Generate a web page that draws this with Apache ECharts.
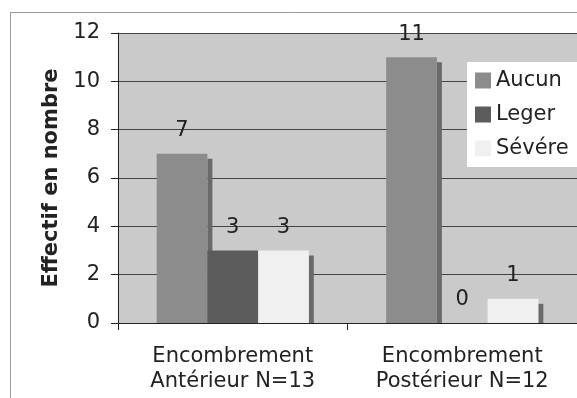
<!DOCTYPE html>
<html><head><meta charset="utf-8">
<script src="https://cdn.jsdelivr.net/npm/echarts@6/dist/echarts.min.js"></script>
<style>html,body{margin:0;padding:0;background:#fff}#c{width:577px;height:398px}</style>
</head><body><div id="c"></div>
<script>
var categories = ['Encombrement\nAntérieur N=13', 'Encombrement\nPostérieur N=12'];
var seriesNames = ['Aucun', 'Leger', 'Sévére'];
var aucun = [7, 11];
var leger = [3, 0];
var severe = [3, 1];
var yTicks = {min: 0, max: 12, interval: 2};

var colors = ['#8c8c8c', '#5c5c5c', '#f0f0f0'];
var shadowColor = '#6a6a6a';
var FONT = 'DejaVu Sans';
var FS = 21;

function makeRender(idx, color) {
  return function (params, api) {
    var cat = api.value(0), v = api.value(1);
    var base = api.coord([cat, 0]);
    var top = api.coord([cat, v]);
    var band = api.size([1, 0])[0];
    var w = band * 0.221;
    var cx = base[0] + (idx - 1) * w;
    var x0 = cx - w / 2;
    var children = [];
    if (v > 0) {
      children.push({type: 'rect', shape: {x: x0 + w, y: top[1] + 5, width: 5, height: base[1] - top[1] - 5}, style: {fill: shadowColor}});
      children.push({type: 'rect', shape: {x: x0, y: top[1], width: w, height: base[1] - top[1]}, style: {fill: color}});
    }
    children.push({type: 'text', style: {text: String(v), x: cx, y: top[1] - 23, align: 'center', verticalAlign: 'middle', font: FS + 'px "' + FONT + '"', fill: '#222'}});
    return {type: 'group', children: children};
  };
}

var data = [aucun, leger, severe];
var series = seriesNames.map(function (name, i) {
  return {
    name: name, type: 'custom', renderItem: makeRender(i, colors[i]),
    itemStyle: {color: colors[i]},
    encode: {x: 0, y: 1},
    data: data[i].map(function (v, j) { return [j, v]; }),
    z: 3 + i
  };
});

var chart = echarts.init(document.getElementById('c'), null, {renderer: 'canvas'});
chart.setOption({
  animation: false,
  backgroundColor: '#fff',
  textStyle: {fontFamily: FONT},
  graphic: [{type: 'rect', left: 8, top: 10, shape: {width: 620, height: 420}, style: {fill: 'none', stroke: '#999', lineWidth: 1}, z: 0, silent: true}],
  grid: {left: 118, top: 33, width: 464, height: 290, show: true, backgroundColor: '#cacaca', borderWidth: 0},
  legend: {
    orient: 'vertical', left: 467, top: 62, padding: [8, 20, 8, 8],
    backgroundColor: '#fff', itemWidth: 16, itemHeight: 16, itemGap: 13,
    icon: 'rect',
    data: seriesNames,
    textStyle: {fontFamily: FONT, fontSize: FS, color: '#222'}
  },
  xAxis: {
    type: 'category', data: categories,
    axisLine: {lineStyle: {color: '#222', width: 1}},
    axisTick: {show: true, alignWithLabel: false, length: 7, lineStyle: {color: '#222'}},
    axisLabel: {interval: 0, margin: 21, fontFamily: FONT, fontSize: FS, lineHeight: 25, color: '#222'},
    splitLine: {show: false}
  },
  yAxis: {
    type: 'value', min: yTicks.min, max: yTicks.max, interval: yTicks.interval,
    name: 'Effectif en nombre', nameLocation: 'middle', nameGap: 55,
    nameTextStyle: {fontFamily: FONT, fontSize: FS, fontWeight: 'bold', color: '#222'},
    axisLine: {show: true, lineStyle: {color: '#222', width: 1}},
    axisTick: {show: true, length: 7, lineStyle: {color: '#222'}},
    axisLabel: {margin: 18, fontFamily: FONT, fontSize: FS, color: '#222'},
    splitLine: {show: true, lineStyle: {color: '#444', width: 1}}
  },
  series: series
});
</script></body></html>
